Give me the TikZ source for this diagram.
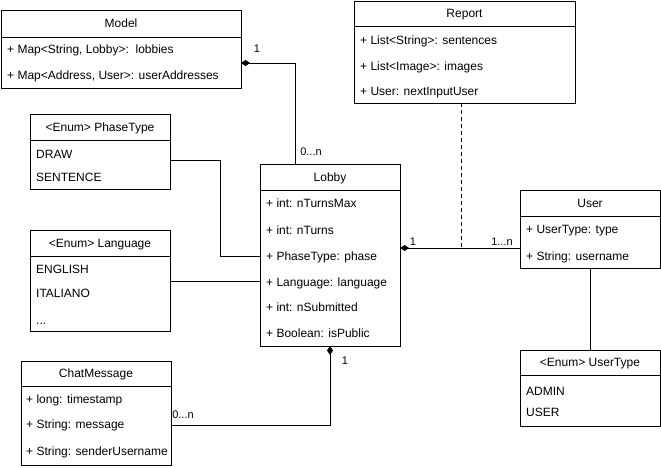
\documentclass[tikz,border=0pt]{standalone}
\usepackage{fontspec}
\setmainfont{Liberation Sans}
\usetikzlibrary{calc,arrows.meta}
\begin{document}
\begin{tikzpicture}[x=1pt,y=-1pt,font=\fontsize{12}{14}\selectfont,
  cls/.style={draw,line width=0.9pt,anchor=north west,inner sep=0,outer sep=0},
  hdr/.style={line width=0.9pt},
  row/.style={anchor=west,inner sep=0,text height=8.6pt,text depth=0pt},
  ttl/.style={inner sep=0,text height=8.6pt,text depth=0pt},
  conn/.style={draw,line width=0.9pt},
  comp/.style={{Diamond[width=6pt,length=9pt]}-},
  lbl/.style={font=\fontsize{11}{13}\selectfont,inner sep=0,text height=8pt,text depth=0pt}]
\useasboundingbox (0,0) rectangle (661,468);

% Model
\node[cls,minimum width=240,minimum height=78] (model) at (1,10) {};
\draw[hdr] (1,37) -- (241,37);
\node[ttl] (modelT) at (121,23.5) {Model};
\node[row] (modelR1) at (7,49) {+ Map<String, Lobby>:\ \ lobbies};
\node[row] (modelR2) at (7,75) {+ Map<Address, User>: userAddresses};

% Report
\node[cls,minimum width=221,minimum height=102] (report) at (354,1) {};
\draw[hdr] (354,26) -- (575,26);
\node[ttl] (reportT) at (464.5,13.5) {Report};
\node[row] (reportR1) at (360,40) {+ List<String>: sentences};
\node[row] (reportR2) at (360,66) {+ List<Image>: images};
\node[row] (reportR3) at (360,91) {+ User: nextInputUser};

% PhaseType
\node[cls,minimum width=140,minimum height=75] (phase) at (30,114) {};
\draw[hdr] (30,140) -- (170,140);
\node[ttl] (phaseT) at (100,127) {<Enum> PhaseType};
\node[row] (phaseR1) at (36,154) {DRAW};
\node[row] (phaseR2) at (36,177) {SENTENCE};

% Language
\node[cls,minimum width=140,minimum height=101] (lang) at (30,230) {};
\draw[hdr] (30,256) -- (170,256);
\node[ttl] (langT) at (100,243) {<Enum> Language};
\node[row] (langR1) at (36,269) {ENGLISH};
\node[row] (langR2) at (36,293) {ITALIANO};
\node[row] (langR3) at (36,320) {...};

% Lobby
\node[cls,minimum width=140,minimum height=182] (lobby) at (260,164) {};
\draw[hdr] (260,190) -- (400,190);
\node[ttl] (lobbyT) at (330,177) {Lobby};
\node[row] (lobbyR1) at (266,203) {+ int: nTurnsMax};
\node[row] (lobbyR2) at (266,230) {+ int: nTurns};
\node[row] (lobbyR3) at (266,256) {+ PhaseType: phase};
\node[row] (lobbyR4) at (266,282) {+ Language: language};
\node[row] (lobbyR5) at (266,307) {+ int: nSubmitted};
\node[row] (lobbyR6) at (266,333) {+ Boolean: isPublic};

% User
\node[cls,minimum width=140,minimum height=78] (user) at (520,190) {};
\draw[hdr] (520,216) -- (660,216);
\node[ttl] (userT) at (590,203) {User};
\node[row] (userR1) at (526,229) {+ UserType: type};
\node[row] (userR2) at (526,256) {+ String: username};

% UserType
\node[cls,minimum width=140,minimum height=76] (utype) at (520,350) {};
\draw[hdr] (520,375) -- (660,375);
\node[ttl] (utypeT) at (590,362.5) {<Enum> UserType};
\node[row] (utypeR1) at (526,391) {ADMIN};
\node[row] (utypeR2) at (526,412) {USER};

% ChatMessage
\node[cls,minimum width=150,minimum height=104] (chat) at (21,361) {};
\draw[hdr] (21,386) -- (171,386);
\node[ttl] (chatT) at (96,373.5) {ChatMessage};
\node[row] (chatR1) at (26,399) {+ long: timestamp};
\node[row] (chatR2) at (26,424) {+ String: message};
\node[row] (chatR3) at (26,451) {+ String: senderUsername};

% connectors
\draw[conn,comp] (model.east |- 0,63) -| (lobby.north west -| 295,0);
\draw[conn] (phase.east |- 0,160) -- (220,160) -- (220,256) -- (lobby.west |- 0,256);
\draw[conn] (lang.east |- 0,281) -- (lobby.west |- 0,281);
\draw[conn,comp] (lobby.east |- 0,248) -- (user.west |- 0,248);
\coordinate (rj) at (461,248);
\draw[conn,dashed,dash pattern=on 4pt off 3pt] (report.south -| 461,0) -- (rj);
\draw[conn] (user.south) -- (utype.north);
\draw[conn,comp] (lobby.south) |- (chat.east |- 0,425);

% multiplicities
\node[lbl] (m1) at (257,49) {1};
\node[lbl] (m2) at (311,152) {0...n};
\node[lbl] (m3) at (413,241) {1};
\node[lbl] (m4) at (502,241) {1...n};
\node[lbl] (m5) at (345,360) {1};
\node[lbl] (m6) at (183,414) {0...n};
\end{tikzpicture}
\end{document}
